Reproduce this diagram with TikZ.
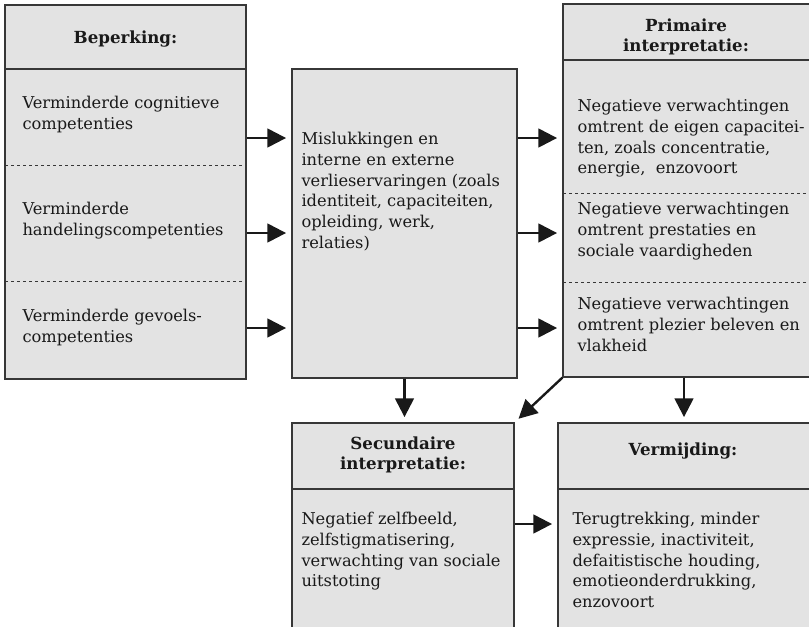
\documentclass[tikz,border=0pt]{standalone}
\usepackage{fontspec}
\setmainfont{DejaVu Serif}
\usetikzlibrary{arrows.meta,fit}

\definecolor{boxgray}{RGB}{227,227,227}
\definecolor{linegray}{RGB}{55,55,55}
\definecolor{inkgray}{RGB}{25,25,25}

\tikzset{every picture/.style={line width=0.75pt}}
\tikzset{
  box/.style={draw=linegray, fill=boxgray, line width=0.9pt, inner sep=0pt},
  rule/.style={draw=linegray, line width=0.9pt},
  sep/.style={draw=linegray, line width=0.6pt, dash pattern=on 2.5pt off 2pt},
  txt/.style={anchor=north west, align=left, inner sep=0pt, text=inkgray, font=\fontsize{12.2}{15.5}\selectfont},
  head/.style={align=center, inner sep=0pt, text=inkgray, font=\bfseries\fontsize{12.5}{15.5}\selectfont},
  arr/.style={draw=inkgray, line width=1.8pt, -{Triangle[length=14pt,width=14pt]}, shorten >=4pt},
}

\begin{document}
\begin{tikzpicture}[x=0.75pt,y=0.75pt,yscale=-1,xscale=1]
\useasboundingbox (0,0) rectangle (809,626);
\clip (0,0) rectangle (809,626);

%Shape: Rectangle [Beperking]
\node[box, fit={(5,5) (246,379)}] (beperk) {};
\draw[rule] (5,69) -- (246,69);
\draw[sep] (5,165) -- (246,165);
\draw[sep] (5,281) -- (246,281);

%Shape: Rectangle [Mislukkingen]
\node[box, fit={(292,69) (517,378)}] (misluk) {};

%Shape: Rectangle [Primaire interpretatie]
\node[box, fit={(563,4) (810,377)}] (primair) {};
\draw[rule] (563,60) -- (810,60);
\draw[sep] (563,193) -- (810,193);
\draw[sep] (563,282) -- (810,282);

%Shape: Rectangle [Secundaire interpretatie]
\node[box, fit={(292,423) (514,640)}] (secund) {};
\draw[rule] (292,489) -- (514,489);

%Shape: Rectangle [Vermijding]
\node[box, fit={(558,423) (810,640)}] (vermijd) {};
\draw[rule] (558,489) -- (810,489);

%Rows of the arrows
\coordinate (rowA) at (0,138);
\coordinate (rowB) at (0,233);
\coordinate (rowC) at (0,328);
\coordinate (rowD) at (0,524);

% Text Node
\node[head] (hBeperk) at (125.5,39) {Beperking:};
\node[txt] (tBeperkA) at (22,96) {Verminderde cognitieve\\competenties};
\node[txt] (tBeperkB) at (22,202) {Verminderde\\handelingscompetenties};
\node[txt] (tBeperkC) at (22,309) {Verminderde gevoels-\\competenties};
% Text Node
\node[txt] (tMisluk) at (301,132) {Mislukkingen en\\interne en externe\\verlieservaringen (zoals\\identiteit, capaciteiten,\\opleiding, werk,\\relaties)};
% Text Node
\node[head] (hPrimair) at (686,37) {Primaire\\interpretatie:};
\node[txt] (tPrimairA) at (577,99) {Negatieve verwachtingen\\omtrent de eigen capacitei-\\ten, zoals concentratie,\\energie,~ enzovoort};
\node[txt] (tPrimairB) at (577,202) {Negatieve verwachtingen\\omtrent prestaties en\\sociale vaardigheden};
\node[txt] (tPrimairC) at (577,297) {Negatieve verwachtingen\\omtrent plezier beleven en\\vlakheid};
% Text Node
\node[head] (hSecund) at (403,455) {Secundaire\\interpretatie:};
\node[txt] (tSecund) at (301,512) {Negatief zelfbeeld,\\zelfstigmatisering,\\verwachting van sociale\\uitstoting};
% Text Node
\node[head] (hVermijd) at (683,451) {Vermijding:};
\node[txt] (tVermijd) at (572,512) {Terugtrekking, minder\\expressie, inactiviteit,\\defaitistische houding,\\emotieonderdrukking,\\enzovoort};

%Arrows
\draw[arr] (beperk.east |- rowA) -- (misluk.west |- rowA);
\draw[arr] (beperk.east |- rowB) -- (misluk.west |- rowB);
\draw[arr] (beperk.east |- rowC) -- (misluk.west |- rowC);
\draw[arr] (misluk.east |- rowA) -- (primair.west |- rowA);
\draw[arr] (misluk.east |- rowB) -- (primair.west |- rowB);
\draw[arr] (misluk.east |- rowC) -- (primair.west |- rowC);
\draw[arr] (misluk.south) -- (misluk.south |- secund.north);
\draw[arr] (primair.south west) -- (secund.north east);
\draw[arr] (primair.south -| vermijd.north) -- (vermijd.north);
\draw[arr] (secund.east |- rowD) -- (vermijd.west |- rowD);

\end{tikzpicture}
\end{document}
